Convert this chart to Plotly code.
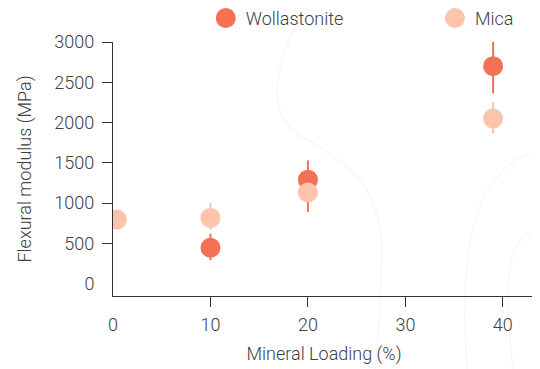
import plotly.graph_objects as go

# ---- data ----
wol_x = [10, 20, 39]
wol_y = [445, 1290, 2700]
wol_err_plus = [175, 240, 310]
wol_err_minus = [155, 400, 340]

mica_x = [0.4, 10, 20, 39]
mica_y = [795, 815, 1130, 2050]
mica_err_plus = [0, 185, 0, 205]
mica_err_minus = [0, 145, 0, 185]

x_ticks = [10, 20, 30, 40]
y_ticks = [500, 1000, 1500, 2000, 2500, 3000]

WOL_COLOR = "#F37154"
MICA_COLOR = "#FBC4AB"
TEXT_COLOR = "#404040"
AXIS_COLOR = "#333333"
FONT = "Roboto"
TICK_SIZE = 18

fig = go.Figure()
fig.add_trace(go.Scatter(
    x=wol_x, y=wol_y, mode="markers", name="Wollastonite", legend="legend",
    marker=dict(size=16, color=WOL_COLOR, line=dict(color=WOL_COLOR, width=4)),
    error_y=dict(type="data", symmetric=False, array=wol_err_plus,
                 arrayminus=wol_err_minus, color=WOL_COLOR, thickness=2, width=0),
))
fig.add_trace(go.Scatter(
    x=mica_x, y=mica_y, mode="markers", name="Mica", legend="legend2",
    marker=dict(size=16, color=MICA_COLOR, line=dict(color=MICA_COLOR, width=4)),
    error_y=dict(type="data", symmetric=False, array=mica_err_plus,
                 arrayminus=mica_err_minus, color=MICA_COLOR, thickness=2, width=0),
))

OFF = 8  # default body margin of the html page
X0, X1, Y0, Y1 = 113.3 - OFF, 535.0 - OFF, 41.7 - OFF, 296.0 - OFF
W, H = 540 - OFF, 369 - OFF

def px(x, y):
    x -= OFF
    y -= OFF
    return (x - X0) / (X1 - X0), (Y1 - y) / (Y1 - Y0)

def path(points):
    p = [px(*pt) for pt in points]
    s = "M %.4f,%.4f" % p[0]
    for i in range(1, len(p), 3):
        s += " C %.4f,%.4f %.4f,%.4f %.4f,%.4f" % (*p[i], *p[i + 1], *p[i + 2])
    return s

deco = [
    [(312, -5), (282, 45), (258, 110), (300, 135), (340, 160), (385, 180), (382, 260), (380, 320), (376, 369), (374, 380)],
    [(468, 380), (462, 300), (455, 170), (540, 150)],
    [(514, 380), (505, 300), (500, 225), (545, 232)],
]
shapes = []
for d in deco:
    shapes.append(dict(type="path", xref="paper", yref="paper", path=path(d),
                       line=dict(color="#f5f5f5", width=1.2), layer="below"))

legend_common = dict(orientation="h", yanchor="middle", xanchor="left",
                     font=dict(size=18, color=TEXT_COLOR, family=FONT, weight=300),
                     itemsizing="trace", bgcolor="rgba(0,0,0,0)")
legend_y = (Y1 - (18 - OFF)) / (Y1 - Y0)

fig.update_layout(
    width=W, height=H, autosize=False,
    margin=dict(l=X0, r=W - X1, t=Y0, b=H - Y1, pad=0, autoexpand=False),
    paper_bgcolor="white", plot_bgcolor="white",
    font=dict(family=FONT, color=TEXT_COLOR, size=16, weight=300),
    showlegend=True,
    legend=dict(x=(206 - OFF - X0) / (X1 - X0), y=legend_y, **legend_common),
    legend2=dict(x=(435 - OFF - X0) / (X1 - X0), y=legend_y, **legend_common),
    shapes=shapes,
    xaxis=dict(range=[0, 43.3], tickvals=x_ticks, ticks="outside", ticklen=10,
               tickwidth=1.3, tickcolor=AXIS_COLOR, showline=True, linecolor=AXIS_COLOR,
               linewidth=1.3, showgrid=False, zeroline=False, automargin=False,
               tickfont=dict(size=TICK_SIZE, color=TEXT_COLOR), ticklabelstandoff=2,
               title=dict(text="Mineral Loading (%)", font=dict(size=18, color=TEXT_COLOR), standoff=13)),
    yaxis=dict(range=[-155, 3000], tickvals=y_ticks, ticks="outside", ticklen=10,
               tickwidth=1.3, tickcolor=AXIS_COLOR, showline=True, linecolor=AXIS_COLOR,
               linewidth=1.3, showgrid=False, zeroline=False, automargin=False,
               tickfont=dict(size=TICK_SIZE, color=TEXT_COLOR), ticklabelstandoff=4,
               title=dict(text="Flexural modulus (MPa)", font=dict(size=18, color=TEXT_COLOR), standoff=18)),
    xaxis2=dict(overlaying="x", range=[0, 43.3], tickvals=[0], ticks="outside", ticklen=10,
                tickcolor="rgba(0,0,0,0)", showline=False, showgrid=False, zeroline=False,
                automargin=False, side="bottom",
                tickfont=dict(size=TICK_SIZE, color=TEXT_COLOR), ticklabelstandoff=2),
    yaxis2=dict(overlaying="y", range=[-155, 3000], tickvals=[0], ticks="outside", ticklen=10,
                tickcolor="rgba(0,0,0,0)", showline=False, showgrid=False, zeroline=False,
                automargin=False, side="left",
                tickfont=dict(size=TICK_SIZE, color=TEXT_COLOR), ticklabelstandoff=4),
)
fig.add_trace(go.Scatter(x=[None], y=[None], xaxis="x2", yaxis="y2", showlegend=False,
                         hoverinfo="skip"))

fig.write_html("out.html")
